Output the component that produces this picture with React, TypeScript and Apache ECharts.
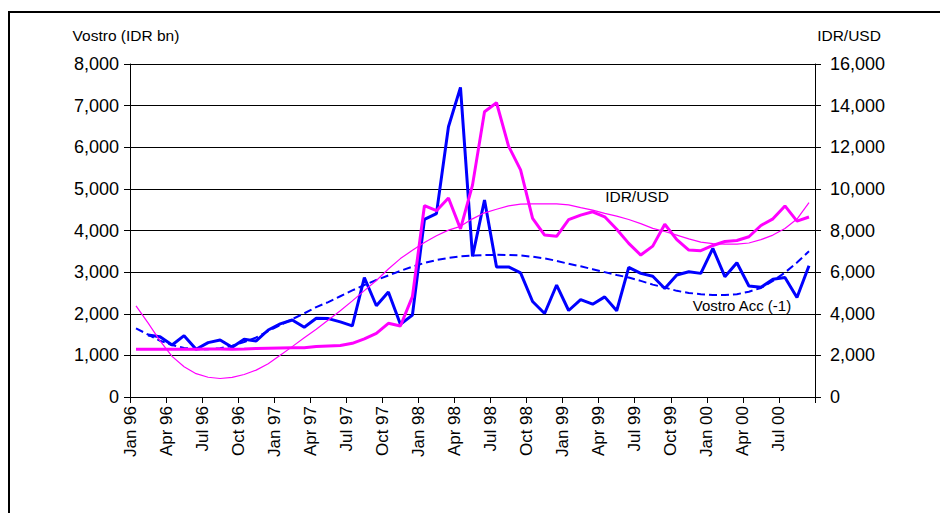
import React, { useEffect, useRef } from "react";
import * as echarts from "echarts";

const months = [
  "Jan 96", "Feb 96", "Mar 96", "Apr 96", "May 96", "Jun 96", "Jul 96", "Aug 96", "Sep 96", "Oct 96", "Nov 96", "Dec 96",
  "Jan 97", "Feb 97", "Mar 97", "Apr 97", "May 97", "Jun 97", "Jul 97", "Aug 97", "Sep 97", "Oct 97", "Nov 97", "Dec 97",
  "Jan 98", "Feb 98", "Mar 98", "Apr 98", "May 98", "Jun 98", "Jul 98", "Aug 98", "Sep 98", "Oct 98", "Nov 98", "Dec 98",
  "Jan 99", "Feb 99", "Mar 99", "Apr 99", "May 99", "Jun 99", "Jul 99", "Aug 99", "Sep 99", "Oct 99", "Nov 99", "Dec 99",
  "Jan 00", "Feb 00", "Mar 00", "Apr 00", "May 00", "Jun 00", "Jul 00", "Aug 00", "Sep 00",
];

const tickLabels = [
  "Jan 96", "Apr 96", "Jul 96", "Oct 96", "Jan 97", "Apr 97", "Jul 97", "Oct 97",
  "Jan 98", "Apr 98", "Jul 98", "Oct 98", "Jan 99", "Apr 99", "Jul 99", "Oct 99",
  "Jan 00", "Apr 00", "Jul 00", "",
];

// Vostro account, lagged one month (IDR bn) – left axis
const vostro: (number | null)[] = [
  null, 1490, 1450, 1250, 1474, 1146, 1306, 1370, 1194, 1386, 1346, 1610,
  1755, 1851, 1675, 1892, 1884, 1804, 1710, 2870, 2192, 2522, 1748, 1968,
  4265, 4405, 6493, 7439, 3375, 4733, 3125, 3125, 2980, 2295, 2005, 2690,
  2078, 2340, 2230, 2405, 2072, 3115, 2970, 2900, 2608, 2932, 3010, 2970,
  3572, 2890, 3226, 2666, 2634, 2827, 2870, 2390, 3155,
];

// IDR/USD – right axis
const idrUsd = [
  2290, 2290, 2295, 2295, 2300, 2300, 2305, 2310, 2300, 2305, 2330, 2345,
  2360, 2365, 2370, 2430, 2450, 2470, 2580, 2790, 3060, 3540, 3410, 4820,
  9190, 8950, 9560, 8080, 10180, 13706, 14138, 12054, 10910, 8580, 7780, 7720,
  8520, 8740, 8900, 8660, 8060, 7380, 6820, 7250, 8300, 7560, 7060, 7030,
  7280, 7470, 7520, 7700, 8240, 8560, 9180, 8450, 8650,
];

// IDR/USD trend (thin) – right axis
const idrUsdTrend = [
  4375, 3560, 2700, 1950, 1450, 1120, 950, 890, 940, 1080, 1290, 1600,
  2010, 2420, 2850, 3260, 3700, 4140, 4620, 5110, 5600, 6150, 6650, 7050,
  7420, 7750, 8020, 8200, 8560, 8850, 9020, 9180, 9270, 9280, 9280, 9280,
  9230, 9100, 8980, 8820, 8690, 8530, 8330, 8100, 7950, 7780, 7600, 7440,
  7370, 7350, 7350, 7400, 7560, 7780, 8100, 8550, 9340,
];

// Vostro trend (dashed) – left axis
const vostroTrend = [
  1650, 1500, 1350, 1250, 1180, 1150, 1150, 1170, 1230, 1320, 1430, 1580,
  1730, 1870, 2010, 2160, 2280, 2420, 2560, 2690, 2810, 2920, 3030, 3130,
  3220, 3290, 3340, 3380, 3400, 3410, 3415, 3410, 3400, 3370, 3330, 3270,
  3200, 3140, 3070, 3000, 2930, 2870, 2790, 2700, 2630, 2550, 2500, 2470,
  2450, 2450, 2470, 2530, 2620, 2790, 2990, 3230, 3500,
];

const FONT = "'Liberation Sans', Arial, sans-serif";

const toPoints = (arr: (number | null)[]) =>
  months
    .map((m, i) => ({ name: m, value: [i + 0.5, arr[i]] }))
    .filter((p) => p.value[1] != null);

const fmt = (v: number) => v.toLocaleString("en-US");

export default function App() {
  const ref = useRef<HTMLDivElement>(null);

  useEffect(() => {
    const chart = echarts.init(ref.current!, null, { renderer: "svg" });
    const option: any = {
      animation: false,
      backgroundColor: "#ffffff",
      textStyle: { fontFamily: FONT },
      grid: { left: 130, right: 125, top: 64, bottom: 116, containLabel: false },
      xAxis: {
        type: "value",
        min: 0,
        max: months.length,
        interval: 3,
        axisLine: { show: true, lineStyle: { color: "#000", width: 1 } },
        axisTick: { show: true, length: 6, lineStyle: { color: "#000" } },
        splitLine: { show: false },
        axisLabel: {
          rotate: 90,
          margin: 9,
          color: "#000",
          fontSize: 17,
          fontFamily: FONT,
          formatter: (v: number) => tickLabels[Math.round(v / 3)] ?? "",
        },
      },
      yAxis: [
        {
          type: "value",
          min: 0,
          max: 8000,
          interval: 1000,
          position: "left",
          axisLine: { show: true, lineStyle: { color: "#000", width: 1 } },
          axisTick: { show: true, length: 6, lineStyle: { color: "#000" } },
          splitLine: { show: true, lineStyle: { color: "#000", width: 1 } },
          axisLabel: { color: "#000", fontSize: 18, margin: 11, fontFamily: FONT, formatter: fmt },
        },
        {
          type: "value",
          min: 0,
          max: 16000,
          interval: 2000,
          position: "right",
          axisLine: { show: true, lineStyle: { color: "#000", width: 1 } },
          axisTick: { show: true, length: 6, lineStyle: { color: "#000" } },
          splitLine: { show: false },
          axisLabel: { color: "#000", fontSize: 18, margin: 15, fontFamily: FONT, formatter: fmt },
        },
      ],
      series: [
        {
          name: "Vostro Acc (-1) trend",
          type: "line",
          yAxisIndex: 0,
          data: toPoints(vostroTrend),
          showSymbol: false,
          symbol: "none",
          lineStyle: { color: "#0000FF", width: 2, type: [8, 4] },
          z: 2,
        },
        {
          name: "Vostro Acc (-1)",
          type: "line",
          yAxisIndex: 0,
          data: toPoints(vostro),
          showSymbol: false,
          symbol: "none",
          lineStyle: { color: "#0000FF", width: 3 },
          z: 3,
        },
        {
          name: "IDR/USD trend",
          type: "line",
          yAxisIndex: 1,
          data: toPoints(idrUsdTrend),
          showSymbol: false,
          symbol: "none",
          lineStyle: { color: "#FF00FF", width: 1.2 },
          z: 4,
        },
        {
          name: "IDR/USD",
          type: "line",
          yAxisIndex: 1,
          data: toPoints(idrUsd),
          showSymbol: false,
          symbol: "none",
          lineStyle: { color: "#FF00FF", width: 3 },
          z: 5,
        },
      ],
      graphic: [
        {
          type: "rect",
          shape: { x: 9, y: 12, width: 1000, height: 600 },
          style: { fill: "none", stroke: "#000", lineWidth: 2 },
          silent: true,
          z: 100,
        },
        {
          type: "text",
          x: 126,
          y: 35,
          style: { text: "Vostro (IDR bn)", fill: "#000", font: `15.5px ${FONT}`, align: "center", verticalAlign: "middle" },
        },
        {
          type: "text",
          x: 849,
          y: 35,
          style: { text: "IDR/USD", fill: "#000", font: `15.5px ${FONT}`, align: "center", verticalAlign: "middle" },
        },
        {
          type: "text",
          x: 637,
          y: 196,
          style: { text: "IDR/USD", fill: "#000", font: `15.5px ${FONT}`, align: "center", verticalAlign: "middle" },
        },
        {
          type: "text",
          x: 742,
          y: 305,
          style: { text: "Vostro Acc (-1)", fill: "#000", font: `15px ${FONT}`, align: "center", verticalAlign: "middle" },
        },
      ],
    };
    chart.setOption(option);
    return () => chart.dispose();
  }, []);

  return (
    <div
      ref={ref}
      style={{ position: "fixed", left: 0, top: 0, width: 940, height: 513, background: "#fff" }}
    />
  );
}
